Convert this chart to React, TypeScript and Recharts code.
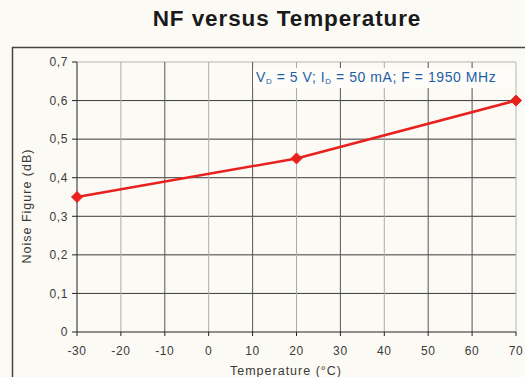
import React from "react";
import { LineChart, Line, XAxis, YAxis, ReferenceLine } from "recharts";

const temperatures = [-30, 20, 70];
const noiseFigure = [0.35, 0.45, 0.6];
const xTicks = [-30, -20, -10, 0, 10, 20, 30, 40, 50, 60, 70];
const yTicks = [0, 0.1, 0.2, 0.3, 0.4, 0.5, 0.6, 0.7];
const darkVertical = [-10, 10, 30, 50, 60];

const data = temperatures.map((t, i) => ({ t, nf: noiseFigure[i] }));

const RED = "#e8201e";
const FONT = "'Liberation Sans', Arial, sans-serif";

const Diamond = (props: any) => {
  const { cx, cy } = props;
  if (cx == null || cy == null) return null;
  const r = 5.5;
  return (
    <polygon
      points={`${cx},${cy - r} ${cx + r},${cy} ${cx},${cy + r} ${cx - r},${cy}`}
      fill={RED}
      stroke={RED}
      strokeWidth={1}
    />
  );
};

const tickStyle = { fontSize: 12, fill: "#3a3a3a", fontFamily: FONT, letterSpacing: 0.6 };

export default function App() {
  return (
    <div
      style={{
        position: "absolute",
        left: 0,
        top: 0,
        width: 525,
        height: 377,
        background: "#fcfaf5",
        fontFamily: FONT,
        overflow: "hidden",
      }}
    >
      <svg width={525} height={377} style={{ position: "absolute", left: 0, top: 0 }}>
        <text x={287} y={26} textAnchor="middle" fontSize={22.5} fontWeight="bold" letterSpacing={0.9} fill="#1a1a1a" fontFamily={FONT}>
          NF versus Temperature
        </text>
        <line x1={12.5} y1={47} x2={12.5} y2={377} stroke="#444" strokeWidth={1.5} />
        <line x1={12} y1={47.5} x2={525} y2={47.5} stroke="#444" strokeWidth={1.5} />
        <text
          transform="translate(31,206) rotate(-90)"
          textAnchor="middle"
          fontSize={12.5}
          letterSpacing={1}
          fill="#3a3a3a"
          fontFamily={FONT}
        >
          Noise Figure (dB)
        </text>
        <text x={286} y={375} textAnchor="middle" fontSize={12.5} letterSpacing={1} fill="#3a3a3a" fontFamily={FONT}>
          Temperature (°C)
        </text>
      </svg>
      <div style={{ position: "absolute", left: 0, top: 0 }}>
        <LineChart
          width={525}
          height={377}
          data={data}
          margin={{ top: 62, right: 9, bottom: 0, left: 13 }}
        >
          {yTicks.slice(1).map((v) => (
            <ReferenceLine
              key={"y" + v}
              y={v}
              stroke={v === 0.7 ? "#b5b5b5" : "#3a3a3a"}
              strokeWidth={1}
              ifOverflow="extendDomain"
            />
          ))}
          {xTicks.slice(1).map((v) => (
            <ReferenceLine
              key={"x" + v}
              x={v}
              stroke={v === 70 ? "#b5b5b5" : darkVertical.includes(v) ? "#555" : "#aaa"}
              strokeWidth={1}
            />
          ))}
          <XAxis
            dataKey="t"
            type="number"
            domain={[-30, 70]}
            ticks={xTicks}
            interval={0}
            height={45}
            stroke="#222"
            tickSize={4}
            tickMargin={10}
            tick={tickStyle}
          />
          <YAxis
            type="number"
            domain={[0, 0.7]}
            ticks={yTicks}
            interval={0}
            width={64}
            stroke="#222"
            tickSize={5}
            tickMargin={4}
            tickFormatter={(v: number) => String(v).replace(".", ",")}
            tick={tickStyle}
          />
          <Line
            type="linear"
            dataKey="nf"
            stroke={RED}
            strokeWidth={2.5}
            dot={<Diamond />}
            activeDot={false}
            isAnimationActive={false}
          />
        </LineChart>
      </div>
      <svg width={525} height={377} style={{ position: "absolute", left: 0, top: 0, pointerEvents: "none" }}>
        <rect x={253} y={68} width={262} height={20} fill="#fdfcf8" />
        <text x={256} y={82} fontSize={14} letterSpacing={0.55} fill="#1f5fa6" fontFamily={FONT}>
          <tspan>V</tspan>
          <tspan fontSize={8} dy={2}>D</tspan>
          <tspan dy={-2}> = 5 V; I</tspan>
          <tspan fontSize={8} dy={2}>D</tspan>
          <tspan dy={-2}> = 50 mA; F = 1950 MHz</tspan>
        </text>
      </svg>
    </div>
  );
}
